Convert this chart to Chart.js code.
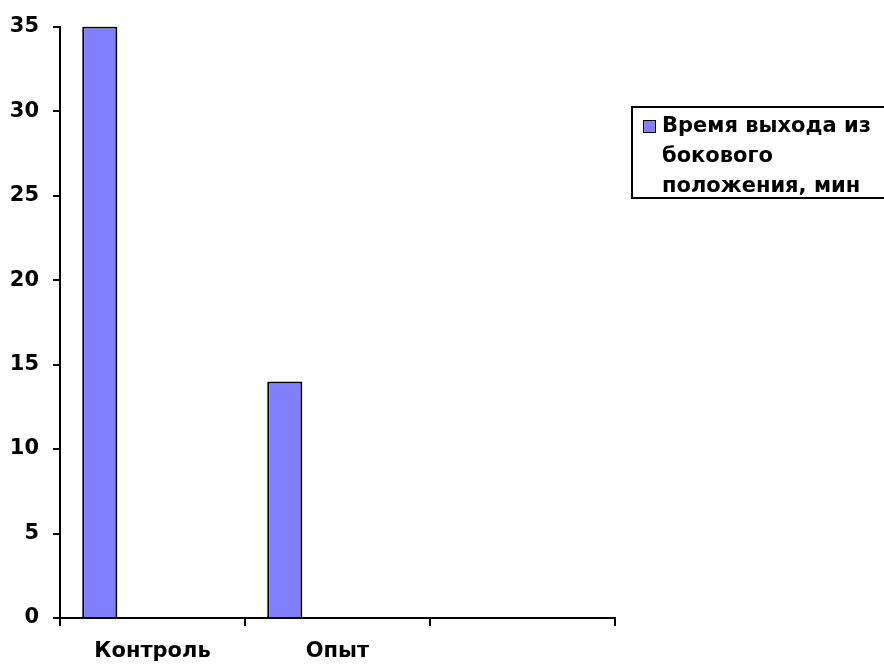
<!DOCTYPE html>
<html>
<head>
<meta charset="utf-8">
<script src="https://cdn.jsdelivr.net/npm/chart.js@4/dist/chart.umd.min.js"></script>
<style>
  html, body { margin: 0; padding: 0; background: #fff; }
  #wrap { width: 884px; height: 664px; position: relative; overflow: hidden; }
</style>
</head>
<body>
<div id="wrap"><canvas id="c" width="884" height="664"></canvas></div>
<script>
// Categories along the x axis (third slot is an unused column)
const categories = ['Контроль', 'Опыт', ''];
// Recovery time from lateral position, minutes
const recoveryTime = [35, 14, null];
// Unused series columns that share each category group
const unusedSeriesA = [null, null, null];
const unusedSeriesB = [null, null, null];
const unusedSeriesC = [null, null, null];
// Legend text, wrapped as it is shown
const legendLines = ['Время выхода из', 'бокового', 'положения, мин'];
// Y axis ticks
const yTicks = [0, 5, 10, 15, 20, 25, 30, 35];

const FAMILY = '"DejaVu Sans", Verdana, sans-serif';
const FONT = 'bold 21px ' + FAMILY;
const BAR_COLOR = '#8080FF';

const boxLegend = {
  id: 'boxLegend',
  afterDraw(chart) {
    const ctx = chart.ctx;
    ctx.save();
    // frame
    ctx.strokeStyle = '#000';
    ctx.lineWidth = 2;
    ctx.strokeRect(632, 107, 300, 91);
    // marker
    ctx.fillStyle = BAR_COLOR;
    ctx.fillRect(643, 120, 13, 13);
    ctx.lineWidth = 1;
    ctx.strokeRect(643.5, 120.5, 12, 12);
    // text
    ctx.fillStyle = '#000';
    ctx.font = FONT;
    ctx.textBaseline = 'middle';
    ctx.textAlign = 'left';
    legendLines.forEach((t, i) => ctx.fillText(t, 662, 127 + i * 30));
    ctx.restore();
  }
};

const mkSet = (label, data) => ({
  label, data,
  backgroundColor: BAR_COLOR,
  borderColor: '#000',
  borderWidth: 2,
  borderSkipped: 'bottom',
  categoryPercentage: 0.76,
  barPercentage: 1
});

new Chart(document.getElementById('c'), {
  type: 'bar',
  data: {
    labels: categories,
    datasets: [
      mkSet(legendLines.join(' '), recoveryTime),
      mkSet('', unusedSeriesA),
      mkSet('', unusedSeriesB),
      mkSet('', unusedSeriesC)
    ]
  },
  plugins: [boxLegend],
  options: {
    responsive: false,
    animation: false,
    layout: { padding: { left: 0, right: 269, top: 25, bottom: 0 } },
    plugins: {
      legend: { display: false },
      tooltip: { enabled: false }
    },
    scales: {
      x: {
        offset: true,
        grid: {
          offset: true,
          drawOnChartArea: false,
          drawTicks: true,
          tickLength: 8,
          color: '#000',
          lineWidth: 2
        },
        border: { color: '#000', width: 2 },
        ticks: {
          color: '#000',
          font: { family: FAMILY, size: 21, weight: 'bold' },
          padding: 13,
          maxRotation: 0,
          autoSkip: false
        },
        afterFit(scale) { scale.height = 46; }
      },
      y: {
        min: 0,
        max: 35,
        afterBuildTicks(scale) { scale.ticks = yTicks.map(v => ({ value: v })); },
        grid: {
          drawOnChartArea: false,
          drawTicks: true,
          tickLength: 7,
          color: '#000',
          lineWidth: 2
        },
        border: { color: '#000', width: 2 },
        ticks: {
          color: '#000',
          font: { family: FAMILY, size: 21, weight: 'bold' },
          padding: 14
        },
        afterFit(scale) { scale.width = 60; }
      }
    }
  }
});
</script>
</body>
</html>
